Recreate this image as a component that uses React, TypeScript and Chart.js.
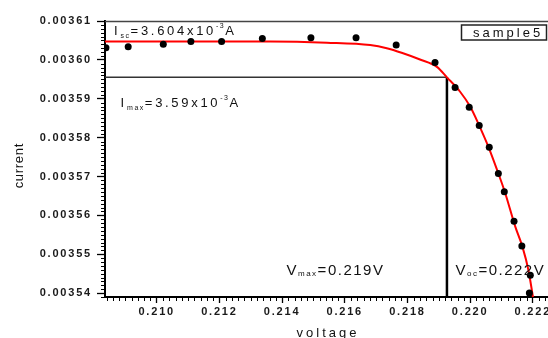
import { useEffect, useRef } from 'react';
import { Chart, registerables } from 'chart.js';

Chart.register(...registerables);

const FONT = '"Liberation Sans", Arial, Helvetica, sans-serif';

// measured points (voltage, current)
const voltage = [0.20838, 0.20909, 0.21021, 0.21109, 0.21207, 0.21337, 0.21492, 0.21636, 0.21764, 0.21888, 0.21952, 0.21997, 0.22029, 0.22061, 0.2209, 0.22109, 0.2214, 0.22165, 0.22192, 0.22189];
const current = [0.0036031, 0.0036034, 0.003604, 0.0036047, 0.0036047, 0.0036055, 0.0036057, 0.0036057, 0.0036038, 0.0035993, 0.0035929, 0.0035878, 0.0035831, 0.0035775, 0.0035708, 0.0035661, 0.0035585, 0.0035521, 0.0035446, 0.00354];

// fitted curve (red)
const fitVoltage = [0.20835, 0.21362, 0.21543, 0.21681, 0.21734, 0.21786, 0.2184, 0.21894, 0.21926, 0.21968, 0.22, 0.22029, 0.22058, 0.2209, 0.22112, 0.22144, 0.22167, 0.22186, 0.22202];
const fitCurrent = [0.0036047, 0.0036047, 0.0036044, 0.0036038, 0.003603, 0.0036017, 0.0036001, 0.0035982, 0.0035955, 0.0035918, 0.003588, 0.0035831, 0.0035777, 0.0035708, 0.0035657, 0.0035571, 0.0035519, 0.0035459, 0.0035382];

// maximum power point
const vMax = 0.21926;
const iMax = 0.0035955;

// axes
const xMin = 0.20835;
const xMax = 0.22258;
const yMin = 0.003539;
const yMax = 0.00361;
const xTickLabels = ['0.210', '0.212', '0.214', '0.216', '0.218', '0.220', '0.222'];
const yTickLabels = ['0.00354', '0.00355', '0.00356', '0.00357', '0.00358', '0.00359', '0.00360', '0.00361'];

const xTitle = 'voltage';
const yTitle = 'current';
const legendText = 'sample5';

type Part = { t: string; size: number; dy: number; sp: number };
const iscText: Part[] = [
  { t: 'I', size: 13, dy: 0, sp: 3 },
  { t: 'sc', size: 7, dy: 3, sp: 1.5 },
  { t: '=3.604x10', size: 13, dy: 0, sp: 2.7 },
  { t: '-3', size: 7, dy: -7, sp: 1.5 },
  { t: 'A', size: 13, dy: 0, sp: 2.7 },
];
const imaxText: Part[] = [
  { t: 'I', size: 13, dy: 0, sp: 3 },
  { t: 'max', size: 7, dy: 3.3, sp: 1.5 },
  { t: '=3.59x10', size: 13, dy: 0, sp: 2.7 },
  { t: '-3', size: 7, dy: -7, sp: 1.5 },
  { t: 'A', size: 13, dy: 0, sp: 2.7 },
];
const vmaxText: Part[] = [
  { t: 'V', size: 15, dy: 0, sp: 1.5 },
  { t: 'max', size: 8, dy: 0.5, sp: 1.5 },
  { t: '=0.219V', size: 15, dy: 0, sp: 1.5 },
];
const vocText: Part[] = [
  { t: 'V', size: 15, dy: 0, sp: 1.5 },
  { t: 'oc', size: 8, dy: 0.5, sp: 1.5 },
  { t: '=0.222V', size: 15, dy: 0, sp: 1.5 },
];

function drawParts(ctx: CanvasRenderingContext2D, x: number, y: number, parts: Part[]) {
  let cx = x;
  for (const p of parts) {
    ctx.font = `${p.size}px ${FONT}`;
    (ctx as any).letterSpacing = `${p.sp}px`;
    ctx.fillText(p.t, cx, y + p.dy);
    cx += ctx.measureText(p.t).width;
  }
}

const spacingPlugin = {
  id: 'spacing',
  beforeUpdate(chart: any) {
    (chart.ctx as any).letterSpacing = '1.8px';
  },
  beforeDraw(chart: any) {
    (chart.ctx as any).letterSpacing = '3px';
  },
  afterDatasetsDraw(chart: any) {
    (chart.ctx as any).letterSpacing = '1.8px';
  },
  afterDraw(chart: any) {
    const ctx: CanvasRenderingContext2D = chart.ctx;
    const ca = chart.chartArea;
    const xs = chart.scales.x;
    const ys = chart.scales.y;
    ctx.save();
    // top frame line
    ctx.strokeStyle = '#444';
    ctx.lineWidth = 1.5;
    ctx.beginPath();
    ctx.moveTo(ca.left, ca.top + 0.5);
    ctx.lineTo(ca.right, ca.top + 0.5);
    ctx.moveTo(ca.right, ca.top);
    ctx.lineTo(ca.right, ca.bottom);
    ctx.stroke();

    // minor ticks
    ctx.strokeStyle = '#000';
    ctx.lineWidth = 1;
    ctx.beginPath();
    const xm = xTickLabels.map(Number);
    const xStep = (xm[1] - xm[0]) / 10;
    for (let k = -20; k <= (xm.length - 1) * 10 + 20; k++) {
      if (k % 10 === 0) continue;
      const v = xm[0] + k * xStep;
      if (v < xs.min || v > xs.max) continue;
      const px = Math.round(xs.getPixelForValue(v)) + 0.5;
      ctx.moveTo(px, ca.bottom);
      ctx.lineTo(px, ca.bottom + 4);
    }
    const ym = yTickLabels.map(Number);
    const yStep = (ym[1] - ym[0]) / 10;
    for (let k = -20; k <= (ym.length - 1) * 10 + 20; k++) {
      if (k % 10 === 0) continue;
      const v = ym[0] + k * yStep;
      if (v < ys.min || v > ys.max) continue;
      const py = Math.round(ys.getPixelForValue(v)) + 0.5;
      ctx.moveTo(ca.left, py);
      ctx.lineTo(ca.left - 4, py);
    }
    ctx.stroke();

    // y title
    ctx.save();
    ctx.fillStyle = '#111';
    ctx.font = `13px ${FONT}`;
    (ctx as any).letterSpacing = '0.7px';
    ctx.textAlign = 'center';
    ctx.textBaseline = 'middle';
    ctx.translate(ca.left - 86, (ca.top + ca.bottom) / 2 + 7);
    ctx.rotate(-Math.PI / 2);
    ctx.fillText(yTitle, 0.35, 0);
    ctx.restore();

    // annotations
    ctx.fillStyle = '#111';
    ctx.textAlign = 'left';
    ctx.textBaseline = 'alphabetic';
    drawParts(ctx, ca.left + 9, ca.top + 14, iscText);
    drawParts(ctx, ca.left + 15.5, ys.getPixelForValue(iMax) + 29.5, imaxText);
    drawParts(ctx, ca.left + 181.5, ca.bottom - 22, vmaxText);
    drawParts(ctx, xs.getPixelForValue(vMax) + 8.5, ca.bottom - 22, vocText);

    // legend box
    ctx.strokeStyle = '#222';
    ctx.lineWidth = 1.5;
    ctx.strokeRect(ca.left + 356.5, ca.top + 4, 85, 15);
    ctx.font = `13px ${FONT}`;
    (ctx as any).letterSpacing = '3px';
    ctx.fillText(legendText, ca.left + 368, ca.top + 16);
    ctx.restore();
    (ctx as any).letterSpacing = '0px';
  },
};

export default function App() {
  const ref = useRef<HTMLCanvasElement | null>(null);

  useEffect(() => {
    document.body.style.overflow = 'hidden';
    document.documentElement.style.overflow = 'hidden';
    const canvas = ref.current;
    if (!canvas) return;

    const points = voltage.map((v, i) => ({ x: v, y: current[i] }));
    const fit = fitVoltage.map((v, i) => ({ x: v, y: fitCurrent[i] }));

    const chart = new Chart(canvas, {
      type: 'scatter',
      data: {
        datasets: [
          {
            label: 'data',
            data: points,
            showLine: false,
            pointRadius: 3.5,
            pointStyle: 'circle',
            backgroundColor: '#000',
            borderColor: '#000',
            borderWidth: 0,
          },
          {
            label: 'fit',
            data: fit,
            showLine: true,
            borderColor: '#ff0000',
            borderWidth: 2,
            pointRadius: 0,
            tension: 0.4,
            cubicInterpolationMode: 'monotone',
          },
          {
            label: 'Imax',
            data: [
              { x: xMin, y: iMax },
              { x: vMax, y: iMax },
            ],
            showLine: true,
            borderColor: '#333',
            borderWidth: 1.5,
            pointRadius: 0,
          },
          {
            label: 'Vmax',
            data: [
              { x: vMax, y: iMax },
              { x: vMax, y: yMin },
            ],
            showLine: true,
            borderColor: '#000',
            borderWidth: 2.5,
            pointRadius: 0,
          },
        ],
      },
      options: {
        animation: false,
        responsive: false,
        layout: { padding: { left: 0, top: 21, right: 19, bottom: 0 } },
        plugins: {
          legend: { display: false },
          tooltip: { enabled: false },
        },
        scales: {
          x: {
            type: 'linear',
            min: xMin,
            max: xMax,
            afterBuildTicks: (scale: any) => {
              scale.ticks = xTickLabels.map((s) => ({ value: Number(s) }));
            },
            afterFit: (scale: any) => {
              scale.height = 53;
            },
            ticks: {
              autoSkip: false,
              maxRotation: 0,
              padding: 2,
              color: '#1a1a1a',
              font: { family: FONT, size: 11, weight: 'bold' },
              z: 1,
              callback: (_v: any, i: number) => xTickLabels[i],
            },
            grid: {
              drawOnChartArea: false,
              drawTicks: true,
              tickLength: 6,
              tickColor: '#000',
              tickWidth: 1.3,
            },
            border: { display: true, color: '#000', width: 2 },
            title: {
              display: true,
              text: xTitle,
              color: '#111',
              font: { family: FONT, size: 13 },
              padding: { top: 0, bottom: 8.8 },
            },
          },
          y: {
            type: 'linear',
            min: yMin,
            max: yMax,
            afterBuildTicks: (scale: any) => {
              scale.ticks = yTickLabels.map((s) => ({ value: Number(s) }));
            },
            afterFit: (scale: any) => {
              scale.width = 105;
            },
            ticks: {
              autoSkip: false,
              padding: 5,
              color: '#1a1a1a',
              font: { family: FONT, size: 11, weight: 'bold' },
              z: 1,
              callback: (_v: any, i: number) => yTickLabels[i],
            },
            grid: {
              drawOnChartArea: false,
              drawTicks: true,
              tickLength: 8,
              tickColor: '#000',
              tickWidth: 1.3,
            },
            border: { display: true, color: '#000', width: 2 },
            title: { display: false },
          },
        },
      },
      plugins: [spacingPlugin],
    } as any);

    return () => chart.destroy();
  }, []);

  return (
    <div style={{ position: 'fixed', left: 0, top: 0, width: 570, height: 350, background: '#fff' }}>
      <canvas ref={ref} width={570} height={350} style={{ display: 'block' }} />
    </div>
  );
}
